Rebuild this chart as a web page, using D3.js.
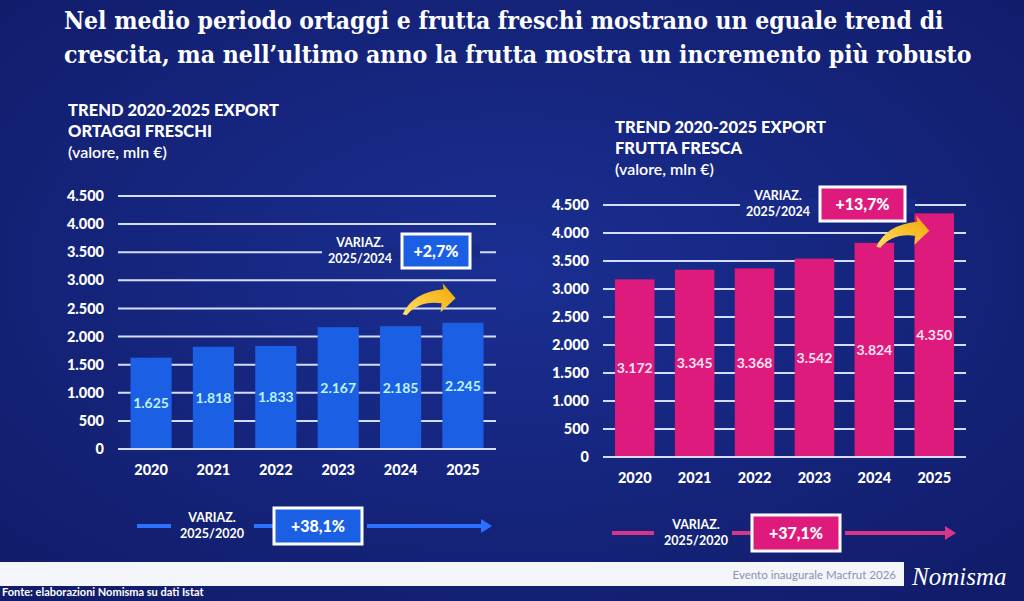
<!DOCTYPE html>
<html><head><meta charset="utf-8">
<script src="https://cdn.jsdelivr.net/npm/d3@7"></script>
<style>
html,body{margin:0;padding:0;background:#14237c;}
svg{display:block;}
</style></head>
<body>
<svg id="c" width="1024" height="601"></svg>
<script>
const years = ["2020","2021","2022","2023","2024","2025"];
const ortaggi = [1625, 1818, 1833, 2167, 2185, 2245];
const frutta = [3172, 3345, 3368, 3542, 3824, 4350];
const yTicks = [0, 500, 1000, 1500, 2000, 2500, 3000, 3500, 4000, 4500];
const titleLines = ["Nel medio periodo ortaggi e frutta freschi mostrano un eguale trend di",
                    "crescita, ma nell\u2019ultimo anno la frutta mostra un incremento più robusto"];
const leftTitle = ["TREND 2020-2025 EXPORT", "ORTAGGI FRESCHI", "(valore, mln \u20ac)"];
const rightTitle = ["TREND 2020-2025 EXPORT", "FRUTTA FRESCA", "(valore, mln \u20ac)"];
const varYoY = ["+2,7%", "+13,7%"];
const varPeriod = ["+38,1%", "+37,1%"];
const varYoYLabel = ["VARIAZ.", "2025/2024"];
const varPeriodLabel = ["VARIAZ.", "2025/2020"];

const svg = d3.select("#c");
const defs = svg.append("defs");
const bg = defs.append("radialGradient").attr("id","bg").attr("cx","50%").attr("cy","45%").attr("r","70%");
bg.append("stop").attr("offset","0%").attr("stop-color","#1a2f92");
bg.append("stop").attr("offset","100%").attr("stop-color","#111c6a");
const yel = defs.append("linearGradient").attr("id","yel").attr("x1","0").attr("y1","1").attr("x2","1").attr("y2","0");
yel.append("stop").attr("offset","0%").attr("stop-color","#ffe066");
yel.append("stop").attr("offset","100%").attr("stop-color","#f2a500");

svg.append("rect").attr("width",1024).attr("height",601).attr("fill","url(#bg)");

const serif = "'DejaVu Serif Condensed','Liberation Serif',serif";
const sans = "Lato,'Open Sans',sans-serif";

const targets = [880, 908];
svg.append("g").selectAll("text").data(titleLines).join("text")
  .attr("x", 64).attr("y", (d,i)=>29 + i*34)
  .attr("font-family", serif).attr("font-weight","bold").attr("font-size", 24)
  .attr("fill","#fff")
  .text(d=>d)
  .each(function(d,i){
    const w = this.getComputedTextLength();
    d3.select(this).attr("font-size", 24*targets[i]/w);
  });

function panel(cfg){
  const g = svg.append("g");
  g.selectAll("text.t").data(cfg.title).join("text").attr("class","t")
    .attr("x", cfg.tx).attr("y",(d,i)=>cfg.ty + i*21)
    .attr("font-family", sans).attr("font-weight", (d,i)=> i<2 ? 900 : 600)
    .attr("font-size", (d,i)=> i<2 ? 16.5 : 16).attr("fill","#fff").text(d=>d);

  const y = d3.scaleLinear().domain([0,4500]).range([cfg.y0, cfg.y1]);
  const x = d3.scaleBand().domain(years).range([cfg.x0, cfg.x1]).paddingInner(0.34).paddingOuter(0.2);

  // gridlines
  g.append("g").selectAll("line").data(yTicks).join("line")
    .attr("x1", cfg.x0).attr("x2", cfg.x1)
    .attr("y1", d=>y(d)).attr("y2", d=>y(d))
    .attr("stroke","#d4defc").attr("stroke-width",2);

  // y axis
  const ya = g.append("g").attr("transform",`translate(${cfg.x0-6},0)`)
    .call(d3.axisLeft(y).tickValues(yTicks).tickSize(0).tickPadding(8)
      .tickFormat(d=> d3.format(",")(d).replace(/,/g,".")));
  ya.select(".domain").remove();
  ya.selectAll("text").attr("font-family",sans).attr("font-weight",900).attr("font-size",14.5).attr("fill","#fff");

  // x axis
  const xa = g.append("g").attr("transform",`translate(0,${cfg.y0})`)
    .call(d3.axisBottom(x).tickSize(0).tickPadding(16));
  xa.select(".domain").remove();
  xa.selectAll("text").attr("font-family",sans).attr("font-weight",900).attr("font-size",14.5).attr("fill","#fff");

  // bars
  g.append("g").selectAll("rect").data(cfg.values).join("rect")
    .attr("x",(d,i)=>x(years[i])).attr("width",x.bandwidth())
    .attr("y",d=>y(d)).attr("height",d=>cfg.y0 - y(d))
    .attr("fill",cfg.color);
  g.append("line").attr("x1",cfg.x0).attr("x2",cfg.x1).attr("y1",y(0)).attr("y2",y(0))
    .attr("stroke","#d4defc").attr("stroke-width",2);

  // value labels
  g.append("g").selectAll("text").data(cfg.values).join("text")
    .attr("x",(d,i)=>x(years[i]) + x.bandwidth()/2)
    .attr("y",d=>y(d/2) + 5)
    .attr("text-anchor","middle").attr("font-family",sans).attr("font-weight",700)
    .attr("font-size",14).attr("fill",cfg.labelColor)
    .text(d=> d3.format(",")(d).replace(/,/g,"."));

  // YoY box (masks gridline behind label & box)
  const bx = cfg.boxX, by = cfg.boxY, bw = cfg.boxW, bh = 34;
  g.append("rect").attr("x",bx-80).attr("y",by+cfg.maskDy).attr("width",bw+90).attr("height",14).attr("fill",cfg.bgMask);
  g.selectAll("text.vl").data(varYoYLabel).join("text").attr("class","vl")
    .attr("x",bx-42).attr("y",(d,i)=>by+13+i*16).attr("text-anchor","middle")
    .attr("font-family",sans).attr("font-weight",700).attr("font-size",12.5).attr("fill","#fff").text(d=>d);
  g.append("rect").attr("x",bx).attr("y",by).attr("width",bw).attr("height",bh)
    .attr("fill",cfg.color).attr("stroke","#fff").attr("stroke-width",3);
  g.append("text").attr("x",bx+bw/2).attr("y",by+bh/2+6).attr("text-anchor","middle")
    .attr("font-family",sans).attr("font-weight",900).attr("font-size",16).attr("fill","#fff").text(cfg.yoy);

  // yellow curved arrow from 2024 towards 2025
  const tx = x("2024") + x.bandwidth()*0.55, ty = y(cfg.values[4]) - cfg.arrowLift;
  const P = (dx,dy)=>[tx+dx, ty+dy];
  const p = d3.path();
  p.moveTo(...P(0,0));
  p.quadraticCurveTo(...P(10,-22), ...P(41,-25));
  p.lineTo(...P(40,-31));
  p.lineTo(...P(53,-16));
  p.lineTo(...P(38,-2));
  p.lineTo(...P(39,-11));
  p.quadraticCurveTo(...P(16,-14), ...P(4,1));
  p.closePath();
  g.append("path").attr("d",p.toString()).attr("fill","url(#yel)");

  // bottom period variation
  const ly = cfg.bottomY, b = cfg.bl;
  g.append("line").attr("x1",b[0]).attr("x2",b[1]).attr("y1",ly).attr("y2",ly)
    .attr("stroke",cfg.lineColor).attr("stroke-width",4);
  g.selectAll("text.pl").data(varPeriodLabel).join("text").attr("class","pl")
    .attr("x",b[2]).attr("y",(d,i)=>ly-4+i*16).attr("text-anchor","middle")
    .attr("font-family",sans).attr("font-weight",700).attr("font-size",12.5).attr("fill","#fff").text(d=>d);
  g.append("line").attr("x1",b[3]).attr("x2",b[4]).attr("y1",ly).attr("y2",ly)
    .attr("stroke",cfg.lineColor).attr("stroke-width",4);
  g.append("rect").attr("x",b[4]).attr("y",ly-18).attr("width",88).attr("height",36)
    .attr("fill",cfg.color).attr("stroke","#fff").attr("stroke-width",3);
  g.append("text").attr("x",b[4]+44).attr("y",ly+6).attr("text-anchor","middle")
    .attr("font-family",sans).attr("font-weight",900).attr("font-size",16).attr("fill","#fff").text(cfg.period);
  g.append("line").attr("x1",b[4]+93).attr("x2",b[5]-8).attr("y1",ly).attr("y2",ly)
    .attr("stroke",cfg.lineColor).attr("stroke-width",4);
  g.append("path").attr("d",`M${b[5]-11},${ly-7} L${b[5]},${ly} L${b[5]-11},${ly+7} Z`)
    .attr("fill",cfg.lineColor);
}

panel({title:leftTitle, tx:68, ty:116, values:ortaggi, color:"#1b5fe4", labelColor:"#bff3ff",
  x0:118, x1:496, y0:449, y1:196, boxX:402, boxY:234, boxW:68, yoy:varYoY[0], bgMask:"#172a88", maskDy:10,
  arrowLift:12, bottomY:526, bl:[137,171,212,254,274,492], lineColor:"#2a72ff", period:varPeriod[0]});
panel({title:rightTitle, tx:615, ty:133, values:frutta, color:"#df1a7d", labelColor:"#ffe3f1",
  x0:603, x1:966, y0:457, y1:205, boxX:820, boxY:187, boxW:85, yoy:varYoY[1], bgMask:"#172a88", maskDy:12,
  arrowLift:-4, bottomY:533, bl:[612,654,696,732,752,956], lineColor:"#d8348a", period:varPeriod[1]});

// footer band
svg.append("rect").attr("x",0).attr("y",562).attr("width",904).attr("height",24).attr("fill","#f4f6fb");
svg.append("text").attr("x",896).attr("y",579).attr("text-anchor","end")
  .attr("font-family",sans).attr("font-size",11.5).attr("fill","#8a93b0").text("Evento inaugurale Macfrut 2026");
svg.append("text").attr("x",912).attr("y",585)
  .attr("font-family","'Liberation Serif',serif").attr("font-style","italic").attr("font-size",25)
  .attr("fill","#fff").text("Nomisma");
svg.append("text").attr("x",2).attr("y",596)
  .attr("font-family",sans).attr("font-weight",700).attr("font-size",11).attr("fill","#fff")
  .text("Fonte: elaborazioni Nomisma su dati Istat");
</script>
</body></html>
